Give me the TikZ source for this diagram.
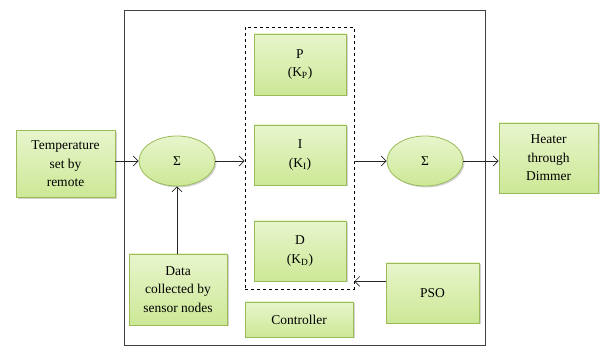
\documentclass[tikz,border=0pt]{standalone}
\usepackage{fontspec}
\setmainfont{Liberation Serif}
\usetikzlibrary{arrows.meta,shapes.geometric,shadows}
\definecolor{gborder}{RGB}{155,187,89}
\definecolor{gtop}{RGB}{232,245,204}
\definecolor{gbot}{RGB}{204,232,150}
\begin{document}
\begin{tikzpicture}[x=1pt,y=-1pt,
  font=\fontsize{13.5}{18.5}\selectfont,
  gbox/.style={rectangle,draw=gborder,line width=0.8pt,top color=gtop,bottom color=gbot,
    align=center,inner sep=1pt,
    drop shadow={shadow xshift=1.5pt,shadow yshift=-1.5pt,opacity=0.35}},
  gell/.style={ellipse,draw=gborder,line width=0.8pt,top color=gtop,bottom color=gbot,
    inner sep=0pt,
    drop shadow={shadow xshift=1.5pt,shadow yshift=-1.5pt,opacity=0.35}},
  arr/.style={draw=black!85,line width=0.7pt,-{Straight Barb[length=5pt,width=10pt]}}
]
\useasboundingbox (0,0) rectangle (603,347);
\node[draw=black!75,line width=0.9pt,minimum width=361pt,minimum height=335pt,inner sep=0pt] (outer) at (304.5,177.5) {};
\node[draw=black,dashed,line width=0.7pt,minimum width=109pt,minimum height=262pt,inner sep=0pt] (dash) at (299.5,158) {};
\node[gbox,minimum width=99pt,minimum height=67pt] (temp) at (65.5,164) {Temperature\\set by\\remote};
\node[gbox,minimum width=99pt,minimum height=70pt] (heater) at (548.5,158) {Heater\\through\\Dimmer};
\node[gbox,minimum width=92pt,minimum height=61pt] (P) at (300,64.5) {P\\(K\textsubscript{P})};
\node[gbox,minimum width=92pt,minimum height=60pt] (I) at (300,155) {I\\(K\textsubscript{I})};
\node[gbox,minimum width=92pt,minimum height=60pt] (D) at (300,251) {D\\(K\textsubscript{D})};
\node[gbox,minimum width=108pt,minimum height=35pt] (ctrl) at (299,319.5) {Controller};
\node[gbox,minimum width=93pt,minimum height=60pt] (pso) at (432.5,293) {PSO};
\node[gbox,minimum width=98pt,minimum height=71pt] (data) at (178,289.5) {Data\\collected by\\sensor nodes};
\node[gell,minimum width=76pt,minimum height=50pt] (s1) at (177,161) {Σ};
\node[gell,minimum width=76pt,minimum height=50pt] (s2) at (425,161) {Σ};
\draw[arr] (temp.east |- s1.west) -- (s1.west);
\draw[arr] (s1.east) -- (dash.west |- s1.east);
\draw[arr] (dash.east |- s2.west) -- (s2.west);
\draw[arr] (s2.east) -- (heater.west |- s2.east);
\draw[arr] (data.north -| s1.south) -- (s1.south);
\draw[arr] (pso.west |- D.south) -- (dash.east |- D.south);
\end{tikzpicture}
\end{document}
